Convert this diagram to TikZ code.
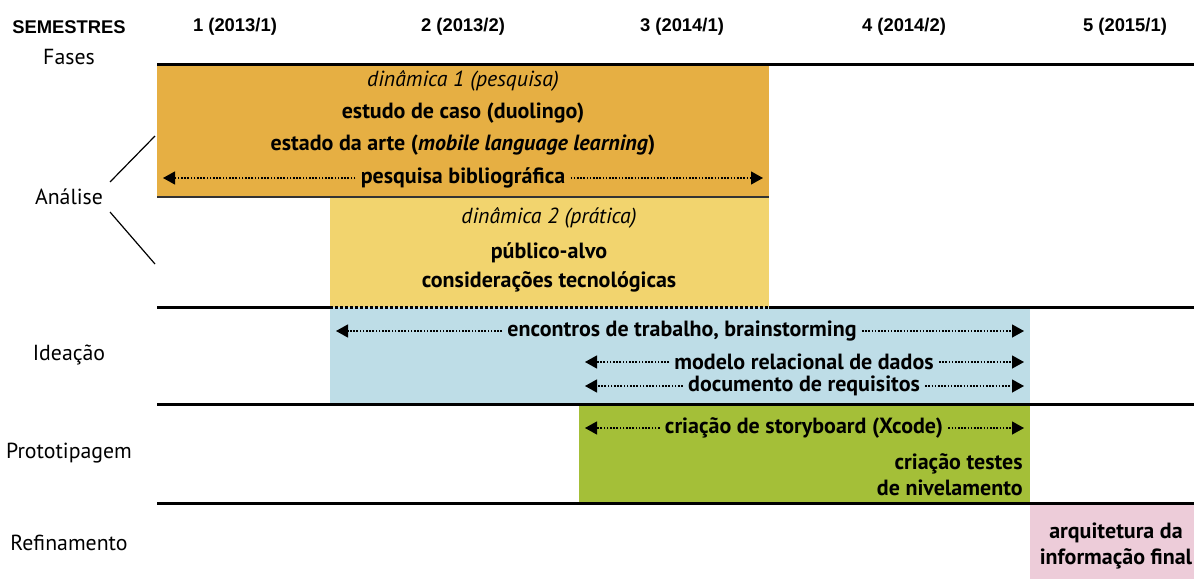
\documentclass[tikz,border=0pt]{standalone}
\usepackage{fontspec}
\setmainfont{PT Sans}
\newfontfamily\hdrfont{Liberation Sans}
\usetikzlibrary{arrows.meta}
\definecolor{dinA}{HTML}{E6AF43}
\definecolor{dinB}{HTML}{F2D46E}
\definecolor{ideia}{HTML}{BEDDE7}
\definecolor{proto}{HTML}{A4BF38}
\definecolor{refin}{HTML}{EDCCD9}

\begin{document}
\begin{tikzpicture}[x=0.5pt,y=-0.5pt,
  hdr/.style={font=\hdrfont\bfseries\fontsize{9.2}{11}\selectfont},
  fase/.style={font=\fontsize{10.9}{13}\selectfont},
  txt/.style={font=\bfseries\fontsize{11}{13}\selectfont,inner xsep=2.5pt},
  dinam/.style={font=\itshape\fontsize{10.9}{13}\selectfont},
  arr/.style={-{Triangle[length=6pt,width=6.5pt]},dash pattern=on 0.8pt off 0.8pt,line width=0.6pt},
  sep/.style={line width=1.5pt}]
\useasboundingbox (0,0) rectangle (1194,579);
% fundos das fases
\fill[dinA] (157,64) rectangle (769,197);
\fill[dinB] (330,197) rectangle (769,307);
\fill[ideia] (330,307) rectangle (1030,404);
\fill[proto] (579,404) rectangle (1030,503);
\fill[refin] (1030,503) rectangle (1194,579);
% linhas separadoras
\draw[sep] (157,64)--(1194,64);
\draw[line width=0.6pt,black!80] (157,197)--(769,197);
\draw[sep] (157,307)--(330,307);
\draw[sep,dash pattern=on 1.5pt off 1pt] (330,307)--(769,307);
\draw[sep] (769,307)--(1194,307);
\draw[sep] (157,404)--(1194,404);
\draw[sep] (157,503)--(1194,503);
% semestres
\node[hdr] (sem) at (69,27) {SEMESTRES};
\foreach \i/\x/\y/\h in {1/235/2013/1,2/463/2013/2,3/682/2014/1,4/904/2014/2,5/1125/2015/1}
  \node[hdr] (s\i) at (\x,27) {\i\ (\y/\h)};
% fases
\node[fase] (fases) at (69,57) {Fases};
\node[fase] (an) at (69,197) {Análise};
\node[fase] (id) at (69,355) {Ideação};
\node[fase] (pt) at (69,453) {Prototipagem};
\node[fase] (rf) at (69,543) {Refinamento};
\coordinate (anT) at (155,136);
\coordinate (anB) at (155,264);
\draw[line width=0.6pt] (an.north east)--(anT);
\draw[line width=0.6pt] (an.south east)--(anB);
% analise: dinamica 1
\node[dinam] (d1) at (463,81) {dinâmica 1 (pesquisa)};
\node[txt] (caso) at (463,113) {estudo de caso (duolingo)};
\node[txt] (arte) at (463,145) {estado da arte (\textit{mobile language learning})};
\node[txt] (pb) at (463,178) {pesquisa bibliográfica};
\coordinate (pbL) at (163,178);
\coordinate (pbR) at (763,178);
\draw[arr] (pb.west)--(pbL);
\draw[arr] (pb.east)--(pbR);
% analise: dinamica 2
\node[dinam] (d2) at (549,218) {dinâmica 2 (prática)};
\node[txt] (pub) at (549,253) {público-alvo};
\node[txt] (tec) at (549,282) {considerações tecnológicas};
% ideacao
\node[txt] (enc) at (682,331) {encontros de trabalho, brainstorming};
\coordinate (encL) at (336,331);
\coordinate (encR) at (1024,331);
\draw[arr] (enc.west)--(encL);
\draw[arr] (enc.east)--(encR);
\node[txt] (mod) at (804,362) {modelo relacional de dados};
\coordinate (modL) at (585,362);
\coordinate (modR) at (1024,362);
\draw[arr] (mod.west)--(modL);
\draw[arr] (mod.east)--(modR);
\node[txt] (doc) at (804,386) {documento de requisitos};
\coordinate (docL) at (585,386);
\coordinate (docR) at (1024,386);
\draw[arr] (doc.west)--(docL);
\draw[arr] (doc.east)--(docR);
% prototipagem
\node[txt] (sb) at (804,428) {criação de storyboard (Xcode)};
\coordinate (sbL) at (585,428);
\coordinate (sbR) at (1024,428);
\draw[arr] (sb.west)--(sbL);
\draw[arr] (sb.east)--(sbR);
\node[txt,anchor=east,align=right] (niv) at (1028,475) {criação testes\\de nivelamento};
% refinamento
\node[txt,align=center] (arq) at (1116,546) {arquitetura da\\informação final};
\end{tikzpicture}
\end{document}
